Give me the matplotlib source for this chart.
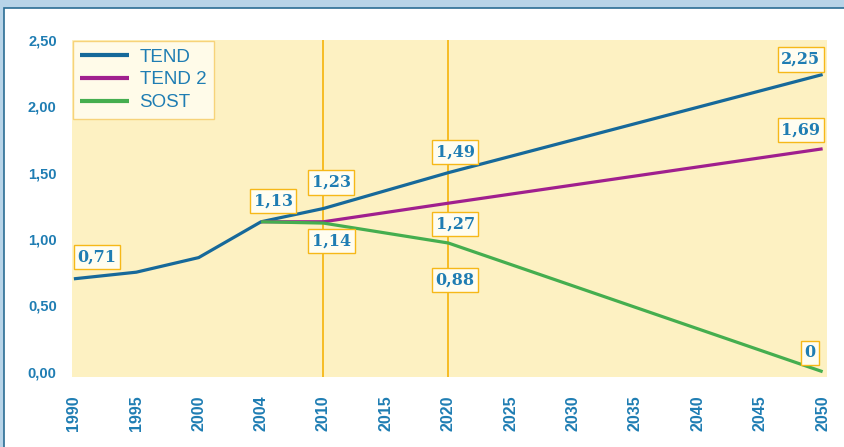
import matplotlib
matplotlib.use("Agg")
import matplotlib.pyplot as plt
from matplotlib.patches import Rectangle

# categories on the x axis (evenly spaced, not a linear time scale)
years = ["1990", "1995", "2000", "2004", "2010", "2015", "2020",
         "2025", "2030", "2035", "2040", "2045", "2050"]

# series, as (year, value) pairs
tend_years = ["1990", "1995", "2000", "2004", "2010", "2020", "2050"]
tend_vals = [0.70, 0.75, 0.86, 1.13, 1.23, 1.50, 2.24]

tend2_years = ["2004", "2010", "2020", "2050"]
tend2_vals = [1.13, 1.13, 1.27, 1.68]

sost_years = ["2004", "2010", "2020", "2050"]
sost_vals = [1.13, 1.12, 0.97, 0.0]

yticks = [0.0, 0.5, 1.0, 1.5, 2.0, 2.5]
ytick_labels = ["0,00", "0,50", "1,00", "1,50", "2,00", "2,50"]

marker_years = ["2010", "2020"]

# value boxes: (text, series, year)
value_labels = [
    ("0,71", "TEND", "1990"),
    ("1,13", "TEND", "2004"),
    ("1,23", "TEND", "2010"),
    ("1,14", "TEND 2", "2010"),
    ("1,49", "TEND", "2020"),
    ("1,27", "TEND 2", "2020"),
    ("0,88", "SOST", "2020"),
    ("2,25", "TEND", "2050"),
    ("1,69", "TEND 2", "2050"),
    ("0", "SOST", "2050"),
]
label_offsets = [(23, 22), (12, 21), (8, 26), (8, -19), (7, 21),
                 (7, -21), (7, -37), (-22, 15), (-22, 19), (-13, 19)]

C_TEND = "#16699a"
C_TEND2 = "#a0208e"
C_SOST = "#45ae4f"
C_TEXT = "#1f7db3"
C_ORANGE = "#f6b818"

series = {
    "TEND": (tend_years, tend_vals, C_TEND),
    "TEND 2": (tend2_years, tend2_vals, C_TEND2),
    "SOST": (sost_years, sost_vals, C_SOST),
}


def xpos(y):
    return years.index(y)


fig = plt.figure(figsize=(8.44, 4.47), dpi=100)

# frame: light blue band with a dark line round a white panel
fig.patches.append(Rectangle((0, 0), 1, 1, transform=fig.transFigure,
                             facecolor="#b8d4e8", edgecolor="none", zorder=-10))
fig.patches.append(Rectangle((3.5 / 844, -0.05), 1.1, 1 - 7.5 / 447 + 0.05,
                             transform=fig.transFigure, facecolor="white",
                             edgecolor="#2b6d94", linewidth=1.2, zorder=-9))

ax = fig.add_axes([72 / 844, 1 - 377 / 447, 755 / 844, 337 / 447])
ax.set_facecolor("#fdf1c2")

for name, (ys, vals, color) in series.items():
    ax.plot([xpos(y) for y in ys], vals, color=color, linewidth=2.3,
            label=name, solid_capstyle="butt", zorder=3)

for y in marker_years:
    ax.axvline(xpos(y), color=C_ORANGE, linewidth=1.3, zorder=2)

for (txt, name, yr), off in zip(value_labels, label_offsets):
    ys, vals, _ = series[name]
    v = vals[ys.index(yr)]
    ax.annotate(txt, xy=(xpos(yr), v), xytext=off, textcoords="offset pixels",
                ha="center", va="center", fontsize=11.5, fontweight="bold",
                family="DejaVu Serif", color=C_TEXT, zorder=5,
                bbox=dict(boxstyle="square,pad=0.22", facecolor="#fffdf0",
                          edgecolor=C_ORANGE, linewidth=1))

ax.set_xlim(-0.03, 12.07)
ax.set_ylim(-0.04, 2.5)
ax.set_xticks(range(len(years)))
ax.set_xticklabels(years, rotation=90, fontsize=11.5, fontweight="bold",
                   color=C_TEXT, family="Liberation Sans")
ax.set_yticks(yticks)
ax.set_yticklabels(ytick_labels, fontsize=10.5, fontweight="bold",
                   color=C_TEXT, family="Liberation Sans")
ax.tick_params(axis="x", length=0, pad=13)
ax.tick_params(axis="y", length=0, pad=11)
for s in ax.spines.values():
    s.set_visible(False)

leg = ax.legend(loc="upper left", bbox_to_anchor=(0.0, 1.0),
                frameon=True, fancybox=False, borderpad=0.4,
                handlelength=2.6, handletextpad=0.55, labelspacing=0.3,
                borderaxespad=0.05, prop={"family": "Liberation Sans", "size": 13.5})
leg.get_frame().set_edgecolor("#f7d37a")
leg.get_frame().set_facecolor("#fffbe9")
leg.get_frame().set_alpha(1)
leg.get_frame().set_linewidth(1)
for t in leg.get_texts():
    t.set_color(C_TEXT)
for h in leg.get_lines():
    h.set_linewidth(3)

fig.savefig("out.png", dpi=100)
